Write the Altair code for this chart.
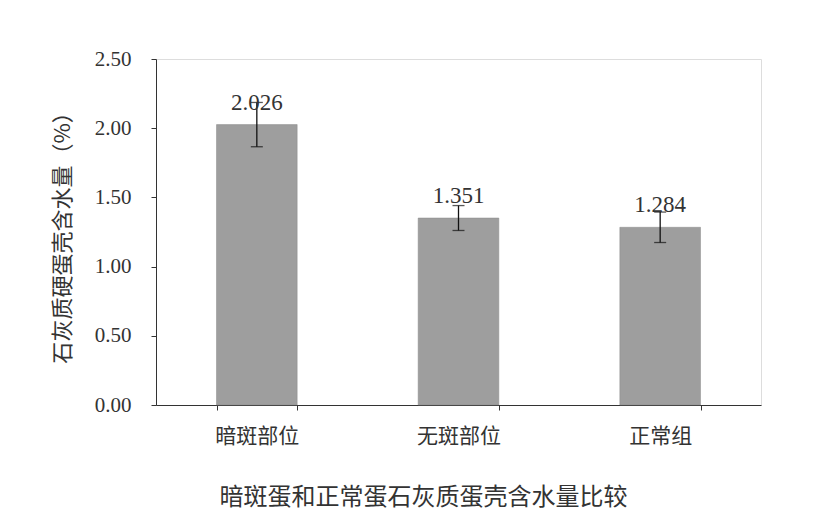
import altair as alt
import pandas as pd

categories = ["暗斑部位", "无斑部位", "正常组"]
values = [2.026, 1.351, 1.284]
errors = [0.16, 0.09, 0.11]
labels = ["2.026", "1.351", "1.284"]

df = pd.DataFrame({
    "cat": categories,
    "val": values,
    "lo": [v - e for v, e in zip(values, errors)],
    "hi": [v + e for v, e in zip(values, errors)],
    "label": labels,
})

cjk = "Noto Sans CJK SC"

x = alt.X("cat:N", sort=categories, title=None,
          scale=alt.Scale(paddingInner=0.6, paddingOuter=0.3),
          axis=alt.Axis(labelAngle=0, labelFont=cjk, labelFontSize=21,
                        labelColor="#333", labelPadding=15, tickBand="extent",
                        tickSize=5, domainColor="#333", tickColor="#333"))
y = alt.Y("val:Q", title="石灰质硬蛋壳含水量（%）",
          scale=alt.Scale(domain=[0, 2.5], nice=False),
          axis=alt.Axis(values=[0, 0.5, 1.0, 1.5, 2.0, 2.5], format=".2f",
                        labelFont="Liberation Serif", labelFontSize=21,
                        labelColor="#333", labelPadding=20, tickSize=5,
                        titleFont=cjk, titleFontSize=22, titleFontWeight="normal",
                        titleColor="#333", titlePadding=20, grid=False,
                        domainColor="#333", tickColor="#333"))

base = alt.Chart(df)
bars = base.mark_bar(color="#9e9e9e", stroke="#8a8a8a", strokeWidth=0.5).encode(x=x, y=y)
rule = base.mark_rule(color="#111", strokeWidth=1.3).encode(
    x=alt.X("cat:N", sort=categories), y="lo:Q", y2="hi:Q")
cap_lo = base.mark_tick(color="#111", thickness=1.3, size=12, orient="horizontal").encode(
    x=alt.X("cat:N", sort=categories), y="lo:Q")
cap_hi = base.mark_tick(color="#111", thickness=1.3, size=12, orient="horizontal").encode(
    x=alt.X("cat:N", sort=categories), y="hi:Q")
text = base.mark_text(font="Liberation Serif", fontSize=23, baseline="alphabetic",
                      dy=-15, color="#333").encode(
    x=alt.X("cat:N", sort=categories), y="val:Q", text="label:N")

chart = alt.layer(bars, rule, cap_lo, cap_hi, text).properties(
    width=605, height=346,
    autosize=alt.AutoSizeParams(type="none"),
    padding={"left": 148, "top": 51, "right": 60, "bottom": 116},
    title=alt.TitleParams("暗斑蛋和正常蛋石灰质蛋壳含水量比较", orient="bottom",
                          font=cjk, fontSize=24, fontWeight="normal", color="#333",
                          offset=40, dx=-35),
).configure_view(stroke=None).configure(background="white")

chart.save("out.html", embed_options={"renderer": "svg", "actions": False})
